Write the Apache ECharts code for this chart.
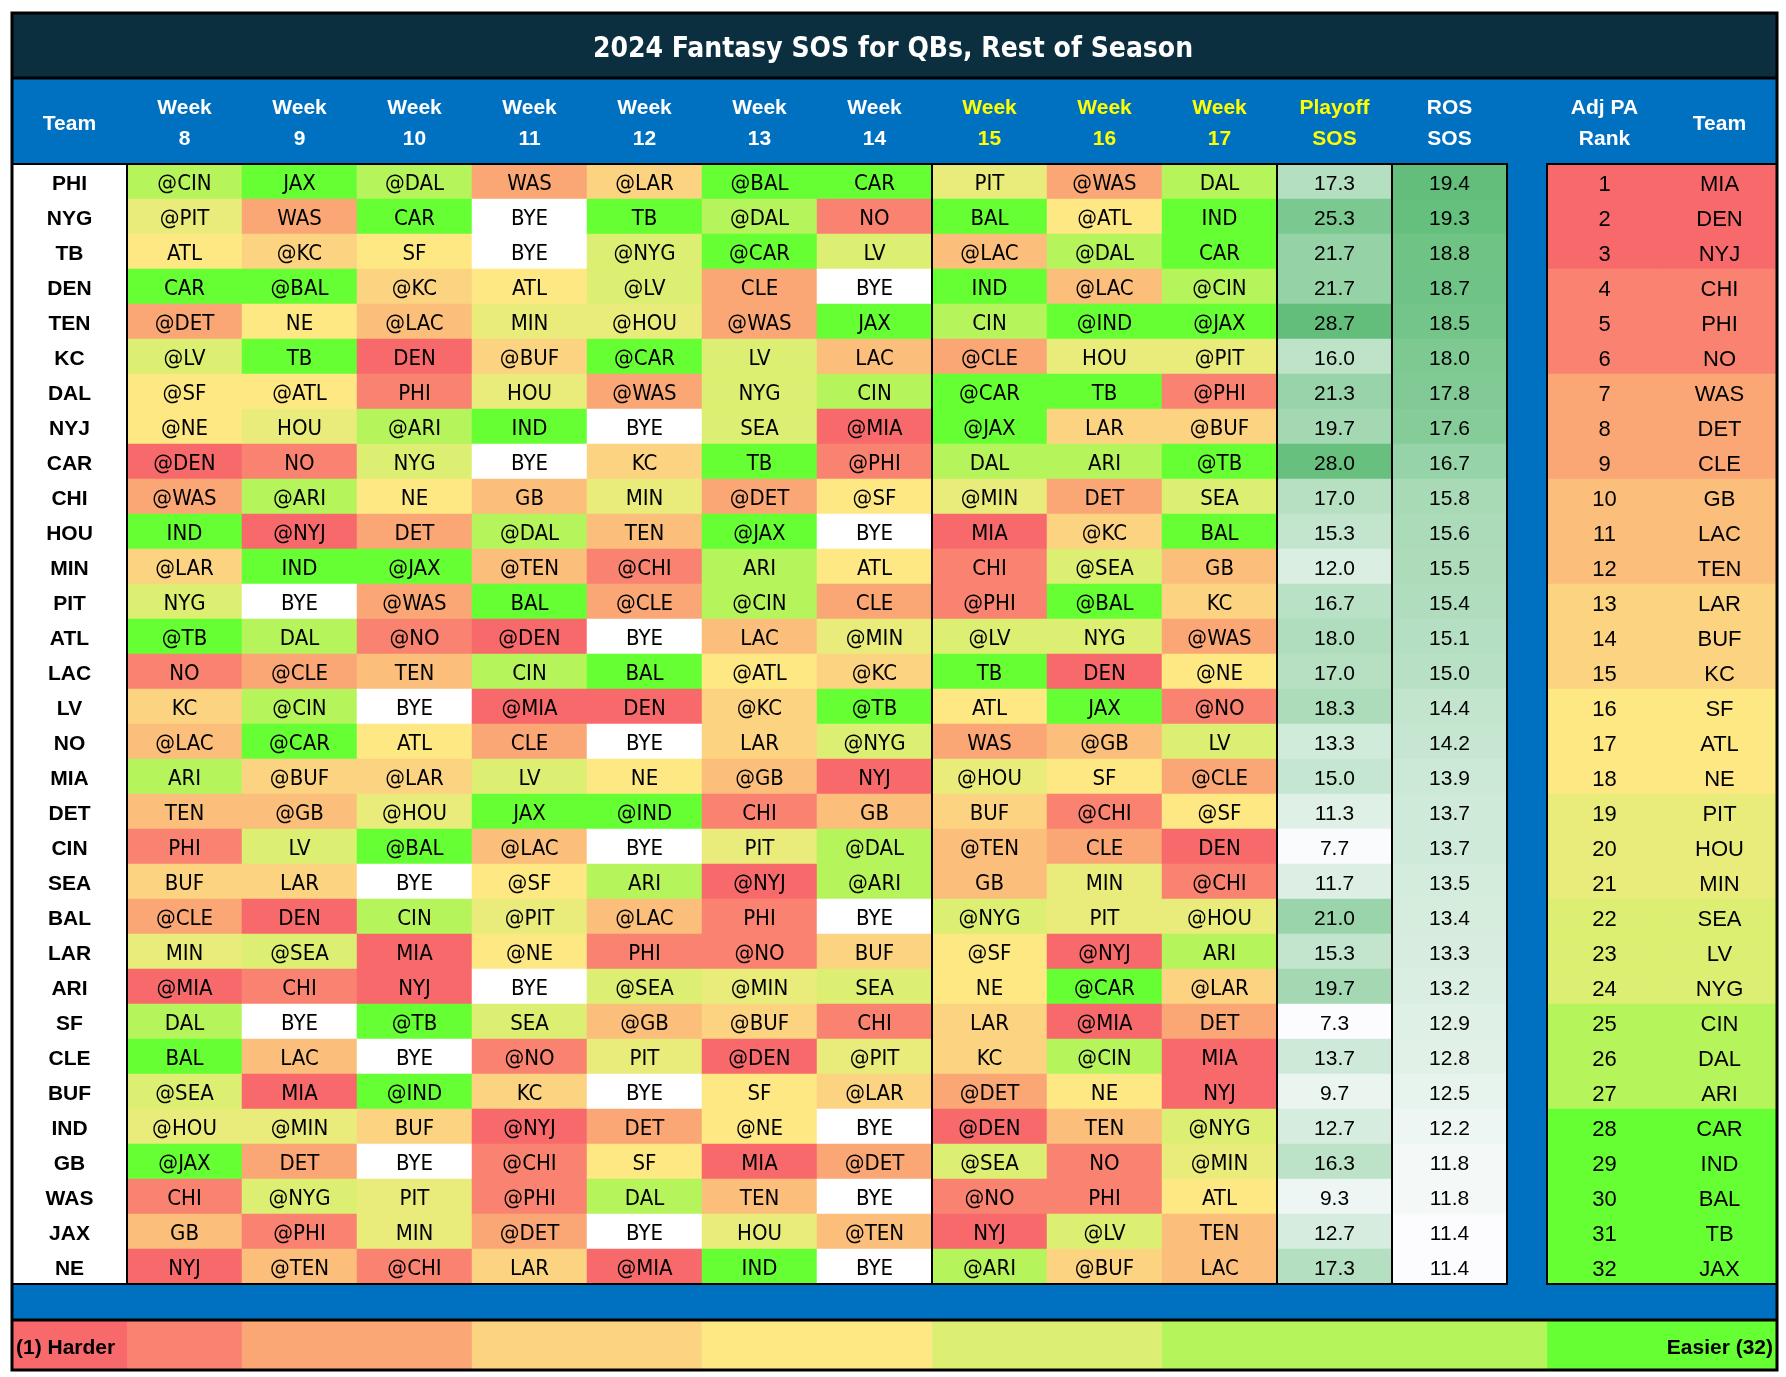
<!DOCTYPE html>
<html><head><meta charset="utf-8">
<script src="https://cdn.jsdelivr.net/npm/echarts@6/dist/echarts.min.js"></script>
<style>html,body{margin:0;padding:0;background:#fff}#c{width:1786px;height:1377px}</style>
</head><body><div id="c"></div>
<script>
// ---------------- DATA ----------------
const teams = ['PHI','NYG','TB','DEN','TEN','KC','DAL','NYJ','CAR','CHI','HOU','MIN','PIT','ATL','LAC','LV','NO','MIA','DET','CIN','SEA','BAL','LAR','ARI','SF','CLE','BUF','IND','GB','WAS','JAX','NE'];
const headers = ['Team','Week\n8','Week\n9','Week\n10','Week\n11','Week\n12','Week\n13','Week\n14','Week\n15','Week\n16','Week\n17','Playoff\nSOS','ROS\nSOS'];
const rankHeaders = ['Adj PA\nRank','Team'];
const week8  = ['@CIN','@PIT','ATL','CAR','@DET','@LV','@SF','@NE','@DEN','@WAS','IND','@LAR','NYG','@TB','NO','KC','@LAC','ARI','TEN','PHI','BUF','@CLE','MIN','@MIA','DAL','BAL','@SEA','@HOU','@JAX','CHI','GB','NYJ'];
const week9  = ['JAX','WAS','@KC','@BAL','NE','TB','@ATL','HOU','NO','@ARI','@NYJ','IND','BYE','DAL','@CLE','@CIN','@CAR','@BUF','@GB','LV','LAR','DEN','@SEA','CHI','BYE','LAC','MIA','@MIN','DET','@NYG','@PHI','@TEN'];
const week10 = ['@DAL','CAR','SF','@KC','@LAC','DEN','PHI','@ARI','NYG','NE','DET','@JAX','@WAS','@NO','TEN','BYE','ATL','@LAR','@HOU','@BAL','BYE','CIN','MIA','NYJ','@TB','BYE','@IND','BUF','BYE','PIT','MIN','@CHI'];
const week11 = ['WAS','BYE','BYE','ATL','MIN','@BUF','HOU','IND','BYE','GB','@DAL','@TEN','BAL','@DEN','CIN','@MIA','CLE','LV','JAX','@LAC','@SF','@PIT','@NE','BYE','SEA','@NO','KC','@NYJ','@CHI','@PHI','@DET','LAR'];
const week12 = ['@LAR','TB','@NYG','@LV','@HOU','@CAR','@WAS','BYE','KC','MIN','TEN','@CHI','@CLE','BYE','BAL','DEN','BYE','NE','@IND','BYE','ARI','@LAC','PHI','@SEA','@GB','PIT','BYE','DET','SF','DAL','BYE','@MIA'];
const week13 = ['@BAL','@DAL','@CAR','CLE','@WAS','LV','NYG','SEA','TB','@DET','@JAX','ARI','@CIN','LAC','@ATL','@KC','LAR','@GB','CHI','PIT','@NYJ','PHI','@NO','@MIN','@BUF','@DEN','SF','@NE','MIA','TEN','HOU','IND'];
const week14 = ['CAR','NO','LV','BYE','JAX','LAC','CIN','@MIA','@PHI','@SF','BYE','ATL','CLE','@MIN','@KC','@TB','@NYG','NYJ','GB','@DAL','@ARI','BYE','BUF','SEA','CHI','@PIT','@LAR','BYE','@DET','BYE','@TEN','BYE'];
const week15 = ['PIT','BAL','@LAC','IND','CIN','@CLE','@CAR','@JAX','DAL','@MIN','MIA','CHI','@PHI','@LV','TB','ATL','WAS','@HOU','BUF','@TEN','GB','@NYG','@SF','NE','LAR','KC','@DET','@DEN','@SEA','@NO','NYJ','@ARI'];
const week16 = ['@WAS','@ATL','@DAL','@LAC','@IND','HOU','TB','LAR','ARI','DET','@KC','@SEA','@BAL','NYG','DEN','JAX','@GB','SF','@CHI','CLE','MIN','PIT','@NYJ','@CAR','@MIA','@CIN','NE','TEN','NO','PHI','@LV','@BUF'];
const week17 = ['DAL','IND','CAR','@CIN','@JAX','@PIT','@PHI','@BUF','@TB','SEA','BAL','GB','KC','@WAS','@NE','@NO','LV','@CLE','@SF','DEN','@CHI','@HOU','ARI','@LAR','DET','MIA','NYJ','@NYG','@MIN','ATL','TEN','LAC'];
const playoffSOS = [17.3,25.3,21.7,21.7,28.7,16.0,21.3,19.7,28.0,17.0,15.3,12.0,16.7,18.0,17.0,18.3,13.3,15.0,11.3,7.7,11.7,21.0,15.3,19.7,7.3,13.7,9.7,12.7,16.3,9.3,12.7,17.3];
const rosSOS = [19.4,19.3,18.8,18.7,18.5,18.0,17.8,17.6,16.7,15.8,15.6,15.5,15.4,15.1,15.0,14.4,14.2,13.9,13.7,13.7,13.5,13.4,13.3,13.2,12.9,12.8,12.5,12.2,11.8,11.8,11.4,11.4];
const rankTeams = ['MIA','DEN','NYJ','CHI','PHI','NO','WAS','DET','CLE','GB','LAC','TEN','LAR','BUF','KC','SF','ATL','NE','PIT','HOU','MIN','SEA','LV','NYG','CIN','DAL','ARI','CAR','IND','BAL','TB','JAX'];
// rank tiers (Harder -> Easier)
const tierMin = [1,4,7,10,13,16,19,22,25,28];
const tierMax = [3,6,9,12,15,18,21,24,27,32];
const tierColors = ['#f8696b','#f98370','#faa775','#fbbe7b','#fcd380','#fee883','#e9ec7b','#dcef72','#b5f45b','#66ff33'];
// legend key strip
const legendColors = ['#f8696b','#f98370','#faa775','#fcd380','#fee883','#dcef72','#b5f45b','#66ff33'];
const legendSpans = [1,1,2,2,2,2,3.35,2];
const legendText = ['(1) Harder','Easier (32)'];
const title = '2024 Fantasy SOS for QBs, Rest of Season';

// ---------------- BUILD ----------------
const NARROW = "'Liberation Sans Narrow','DejaVu Sans Condensed','Arial Narrow',sans-serif";
const SANS = "'Liberation Sans',Arial,sans-serif";
const weeks = [week8,week9,week10,week11,week12,week13,week14,week15,week16,week17];
const rankOf = s => { const t = s.replace('@',''); const i = rankTeams.indexOf(t); return i < 0 ? 0 : i + 1; };

const teamData = teams.map((t, r) => [0, r, 0]);
const weekData = [];
weeks.forEach((col, c) => col.forEach((opp, r) => weekData.push({value: [c + 1, r, rankOf(opp)], name: opp})));
const playoffData = playoffSOS.map((v, r) => [11, r, v]);
const rosData = rosSOS.map((v, r) => [12, r, v]);
const rankData = [];
rankTeams.forEach((t, i) => { rankData.push({value: [0, i, i + 1], name: String(i + 1)}); rankData.push({value: [1, i, i + 1], name: t}); });
const pieces = [{value: 0, color: '#ffffff'}].concat(tierColors.map((c, i) => ({gte: tierMin[i], lte: tierMax[i], color: c})));

const yellowCols = [8, 9, 10, 11];
const OFF = [0, 3];
const cellLabel = {show: true, color: '#000', fontSize: 22, fontFamily: NARROW, offset: OFF};
const numLabel = {show: true, color: '#000', fontSize: 21, fontFamily: SANS, offset: OFF};
const hideAxis = {axisLine: {show: false}, axisTick: {show: false}, splitLine: {show: false}};

const legendSeries = legendColors.map((c, i) => ({
  type: 'bar', xAxisIndex: 2, yAxisIndex: 2, stack: 'key', barWidth: '100%', silent: true,
  data: [legendSpans[i]], itemStyle: {color: c},
  label: {show: i === 0 || i === legendColors.length - 1,
    position: i === 0 ? 'insideLeft' : 'insideRight', distance: 4, offset: OFF,
    formatter: i === 0 ? legendText[0] : legendText[1],
    color: '#000', fontWeight: 'bold', fontSize: 21, fontFamily: SANS}
}));

const chart = echarts.init(document.getElementById('c'), null, {renderer: 'canvas'});
chart.setOption({
  backgroundColor: '#ffffff',
  animation: false,
  title: {text: title, left: 'center', top: 31,
    textStyle: {color: '#ffffff', fontSize: 28, fontWeight: 'bold', fontFamily: NARROW}},
  graphic: [
    {type: 'rect', z: 0, shape: {x: 12, y: 13, width: 1765, height: 65}, style: {fill: '#0c2f40'}},
    {type: 'rect', z: 0, shape: {x: 12, y: 78, width: 1765, height: 1243}, style: {fill: '#0070c0'}},
    {type: 'rect', z: 100, shape: {x: 12, y: 164, width: 1495, height: 1120}, style: {fill: 'none', stroke: '#000', lineWidth: 2}},
    {type: 'rect', z: 100, shape: {x: 1547, y: 164, width: 230, height: 1120}, style: {fill: 'none', stroke: '#000', lineWidth: 2}},
    {type: 'line', z: 100, shape: {x1: 127, y1: 164, x2: 127, y2: 1284}, style: {stroke: '#000', lineWidth: 2}},
    {type: 'line', z: 100, shape: {x1: 932, y1: 164, x2: 932, y2: 1284}, style: {stroke: '#000', lineWidth: 2}},
    {type: 'line', z: 100, shape: {x1: 1277, y1: 164, x2: 1277, y2: 1284}, style: {stroke: '#000', lineWidth: 2}},
    {type: 'line', z: 100, shape: {x1: 1392, y1: 164, x2: 1392, y2: 1284}, style: {stroke: '#000', lineWidth: 2}},
    {type: 'line', z: 100, shape: {x1: 12, y1: 78, x2: 1777, y2: 78}, style: {stroke: '#000', lineWidth: 3}},
    {type: 'line', z: 100, shape: {x1: 12, y1: 1320, x2: 1777, y2: 1320}, style: {stroke: '#000', lineWidth: 3}},
    {type: 'rect', z: 100, shape: {x: 12, y: 13, width: 1765, height: 1357}, style: {fill: 'none', stroke: '#000', lineWidth: 3}}
  ],
  grid: [
    {left: 12, top: 164, width: 1495, height: 1120},
    {left: 1547, top: 164, width: 230, height: 1120},
    {left: 12, top: 1321, width: 1765, height: 49}
  ],
  xAxis: [
    Object.assign({type: 'category', gridIndex: 0, position: 'top', data: headers,
      axisLabel: {interval: 0, margin: 40, verticalAlign: 'middle', lineHeight: 31, fontSize: 21, fontWeight: 'bold', fontFamily: SANS,
        color: (v, i) => yellowCols.indexOf(i) >= 0 ? '#ffff00' : '#ffffff'}}, hideAxis),
    Object.assign({type: 'category', gridIndex: 1, position: 'top', data: rankHeaders,
      axisLabel: {interval: 0, margin: 40, verticalAlign: 'middle', lineHeight: 31, fontSize: 21, fontWeight: 'bold', fontFamily: SANS, color: '#ffffff'}}, hideAxis),
    Object.assign({type: 'value', gridIndex: 2, min: 0, max: legendSpans.reduce((a, b) => a + b, 0), show: false}, hideAxis)
  ],
  yAxis: [
    Object.assign({type: 'category', gridIndex: 0, inverse: true, data: teams, axisLabel: {show: false}}, hideAxis),
    Object.assign({type: 'category', gridIndex: 1, inverse: true, data: rankTeams, axisLabel: {show: false}}, hideAxis),
    Object.assign({type: 'category', gridIndex: 2, data: ['key'], show: false}, hideAxis)
  ],
  visualMap: [
    {type: 'piecewise', show: false, seriesIndex: [1, 4], dimension: 2, pieces: pieces},
    {type: 'continuous', show: false, seriesIndex: 2, dimension: 2, min: Math.min(...playoffSOS), max: Math.max(...playoffSOS), inRange: {color: ['#fcfcff', '#63be7b']}},
    {type: 'continuous', show: false, seriesIndex: 3, dimension: 2, min: Math.min(...rosSOS), max: Math.max(...rosSOS), inRange: {color: ['#fcfcff', '#63be7b']}}
  ],
  series: [
    {type: 'heatmap', xAxisIndex: 0, yAxisIndex: 0, data: teamData, silent: true, itemStyle: {color: '#ffffff'},
      label: {show: true, color: '#000', fontSize: 21, fontWeight: 'bold', fontFamily: SANS, offset: OFF, formatter: p => teams[p.value[1]]}},
    {type: 'heatmap', xAxisIndex: 0, yAxisIndex: 0, data: weekData, silent: true,
      label: Object.assign({formatter: p => p.name}, cellLabel)},
    {type: 'heatmap', xAxisIndex: 0, yAxisIndex: 0, data: playoffData, silent: true,
      label: Object.assign({formatter: p => p.value[2].toFixed(1)}, numLabel)},
    {type: 'heatmap', xAxisIndex: 0, yAxisIndex: 0, data: rosData, silent: true,
      label: Object.assign({formatter: p => p.value[2].toFixed(1)}, numLabel)},
    {type: 'heatmap', xAxisIndex: 1, yAxisIndex: 1, data: rankData, silent: true,
      label: {show: true, color: '#000', fontSize: 22, fontFamily: SANS, offset: OFF, formatter: p => p.name}}
  ].concat(legendSeries)
});
</script></body></html>
